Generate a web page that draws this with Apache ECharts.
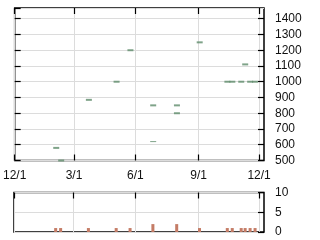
<!DOCTYPE html>
<html><head><meta charset="utf-8">
<script src="https://cdn.jsdelivr.net/npm/echarts@6/dist/echarts.min.js"></script>
<style>html,body{margin:0;padding:0;background:#fff}#c{width:320px;height:240px}</style>
</head><body><div id="c"></div>
<script>
// axis calendar (trading days)
const startDate = '2022-12-01';
const endDate = '2023-12-08';
const marketHolidays = ['2023-01-02','2023-01-03','2023-01-09','2023-02-23','2023-03-21','2023-05-03','2023-05-04','2023-05-05','2023-07-17','2023-08-11','2023-09-18','2023-10-09','2023-11-03','2023-11-23'];
const tickDates = ['2022-12-01','2023-03-01','2023-06-01','2023-09-01','2023-12-01'];
// trades
const tradeDates = ['2023-02-02','2023-02-09','2023-03-23','2023-05-02','2023-05-25','2023-06-27','2023-08-01','2023-09-04','2023-10-16','2023-10-23','2023-11-06','2023-11-10','2023-11-17','2023-11-27'];
const prices = [580,500,885,1000,1200,850,850,1250,1000,1000,1000,1110,1000,1000];
const secondDates = ['2023-08-01'];
const secondPrices = [800];
const lowDates = ['2023-06-27'];
const lowPrices = [620];
const volumes = [1,1,1,1,1,2,2,1,1,1,1,1,1,1];
// axis ranges
const priceMin = 500, priceMax = 1468, priceStep = 100;
const volMin = 0, volMax = 10, volStep = 5;

function buildDays(s, e, hol) {
  const out = [];
  const d = new Date(s + 'T00:00:00Z');
  const end = new Date(e + 'T00:00:00Z');
  while (d <= end) {
    const iso = d.toISOString().slice(0, 10);
    const wd = d.getUTCDay();
    if (wd !== 0 && wd !== 6 && hol.indexOf(iso) < 0) out.push(iso);
    d.setUTCDate(d.getUTCDate() + 1);
  }
  return out;
}
const days = buildDays(startDate, endDate, marketHolidays);
const isTick = (i, v) => tickDates.indexOf(v) >= 0;
const fmtDate = v => { const p = v.split('-'); return (+p[1]) + '/' + (+p[2]); };
const fmtNum = v => String(v);

const font = { fontFamily: 'Liberation Sans, Arial, sans-serif', fontSize: 12, color: '#111' };
const gridLine = { show: true, lineStyle: { color: '#dcdcdc', width: 1 } };
const inTick = (interval) => ({ show: true, inside: true, length: 6, interval: interval, lineStyle: { color: '#000', width: 1.2 } });

const chart = echarts.init(document.getElementById('c'), null, { renderer: 'canvas' });
chart.setOption({
  animation: false,
  backgroundColor: '#fff',
  grid: [
    { left: 14, right: 56, top: 8, height: 152.5, show: true, borderColor: '#000', borderWidth: 1.5, backgroundColor: 'transparent' },
    { left: 14, right: 56, top: 192.5, height: 39.5, show: true, borderColor: '#000', borderWidth: 1.5, backgroundColor: 'transparent' }
  ],
  xAxis: [
    { type: 'category', gridIndex: 0, data: days, boundaryGap: false, position: 'bottom',
      axisLine: { show: false }, axisTick: inTick(isTick),
      axisLabel: Object.assign({ interval: isTick, formatter: fmtDate, margin: 9 }, font),
      splitLine: Object.assign({ interval: isTick }, gridLine) },
    { type: 'category', gridIndex: 0, data: days, boundaryGap: false, position: 'top',
      axisLine: { show: false }, axisTick: inTick(isTick), axisLabel: { show: false }, splitLine: { show: false } },
    { type: 'category', gridIndex: 1, data: days, boundaryGap: false, position: 'bottom',
      axisLine: { show: false }, axisTick: { show: false }, axisLabel: { show: false },
      splitLine: Object.assign({ interval: isTick }, gridLine) },
    { type: 'category', gridIndex: 1, data: days, boundaryGap: false, position: 'top',
      axisLine: { show: false }, axisTick: inTick(isTick), axisLabel: { show: false }, splitLine: { show: false } }
  ],
  yAxis: [
    { type: 'value', gridIndex: 0, position: 'right', min: priceMin, max: priceMax, interval: priceStep,
      axisLine: { show: false }, axisTick: inTick('auto'),
      axisLabel: Object.assign({ margin: 11, showMaxLabel: false, showMinLabel: true, formatter: fmtNum }, font),
      splitLine: gridLine },
    { type: 'value', gridIndex: 0, position: 'left', min: priceMin, max: priceMax, interval: priceStep,
      axisLine: { show: false }, axisTick: inTick('auto'), axisLabel: { show: false }, splitLine: { show: false } },
    { type: 'value', gridIndex: 1, position: 'right', min: volMin, max: volMax, interval: volStep,
      axisLine: { show: false }, axisTick: inTick('auto'),
      axisLabel: Object.assign({ margin: 11, showMaxLabel: true, showMinLabel: true, formatter: fmtNum }, font),
      splitLine: gridLine }
  ],
  series: [
    { type: 'scatter', xAxisIndex: 0, yAxisIndex: 0, symbol: 'rect', symbolSize: [6, 2],
      itemStyle: { color: '#5f8c6c' }, data: tradeDates.map((d, i) => [d, prices[i]]) },
    { type: 'scatter', xAxisIndex: 0, yAxisIndex: 0, symbol: 'rect', symbolSize: [6, 2],
      itemStyle: { color: '#5f8c6c' }, data: secondDates.map((d, i) => [d, secondPrices[i]]) },
    { type: 'scatter', xAxisIndex: 0, yAxisIndex: 0, symbol: 'rect', symbolSize: [6, 1],
      itemStyle: { color: '#5f8c6c' }, data: lowDates.map((d, i) => [d, lowPrices[i]]) },
    { type: 'bar', xAxisIndex: 2, yAxisIndex: 2, barWidth: 3,
      itemStyle: { color: '#c47c66' }, data: tradeDates.map((d, i) => [d, volumes[i]]) }
  ]
});
</script></body></html>
